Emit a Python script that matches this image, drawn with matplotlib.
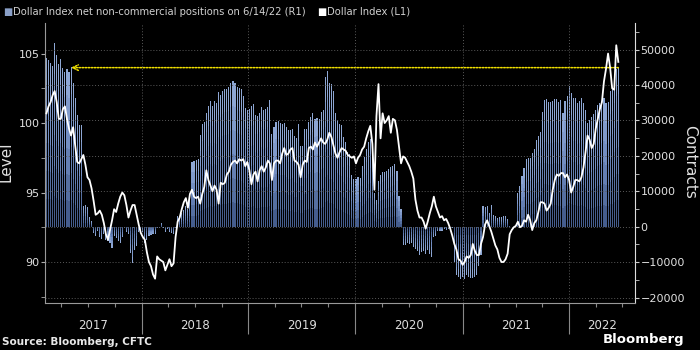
import numpy as np
import pandas as pd
import matplotlib
matplotlib.use('Agg')
import matplotlib.pyplot as plt
import matplotlib.dates as mdates
from matplotlib.ticker import MultipleLocator, NullFormatter
from matplotlib.colors import LinearSegmentedColormap

# weekly net non-commercial positions (contracts)
pos = np.array([
    47500, 47000, 46300, 45500, 51800, 48500, 45800, 47200, 44800, 43800,
    44600, 43700, 45100, 40600, 36300, 31500, 28800, 28700, 5800, 6000,
    5500, 2600, 1500, -1700, -2500, -1200, -3000, -3500, -2200, -3700,
    -4000, -4500, -6000, -2500, -3200, -4000, -4500, -3000, -500, -1500,
    -2200, -7400, -10300, -6500, -5500, -1500, -1300, -1500, -4500, -3700,
    -2700, -2400, -2000, -2000, -500, -300, 1100, -300, -1500, -700,
    -1500, -1800, -2000, -500, 2900, 2700, 4000, 4800, 5800, 5000,
    8700, 18400, 18600, 18900, 19000, 25800, 28900, 29500, 32000, 34000,
    35500, 34000, 35500, 35000, 38000, 37200, 38200, 38800, 38800, 39300,
    40600, 41000, 40500, 39500, 39200, 38800, 37000, 33400, 33000, 33200,
    34200, 34600, 31500, 31300, 32000, 33800, 33000, 33200, 33900, 35800,
    26300, 28200, 29600, 29700, 29400, 29000, 29300, 28200, 27200, 27200,
    27600, 25500, 24900, 29100, 22900, 22800, 27700, 27700, 29600, 31100,
    32000, 30500, 30800, 30400, 32300, 33000, 42300, 43900, 40600, 40200,
    38200, 32000, 30100, 29100, 28600, 25300, 23900, 21000, 20500, 14500,
    13500, 13500, 14000, 13800, 17200, 19600, 22000, 24000, 24700, 23000,
    9600, 7500, 12900, 14500, 15300, 15500, 15800, 16400, 16800, 17200,
    17700, 15600, 8700, 4900, -5100, -5100, -4500, -4800, -4600, -5800,
    -6300, -7000, -8000, -7200, -7000, -7700, -6500, -7600, -8600, -3000,
    -2600, -1300, -1300, -1100, -700, -1000, -700, -800, -300, -10000,
    -13700, -14300, -14700, -14300, -14700, -13700, -14300, -14600, -14400, -14300,
    -13500, -11000, -8000, 5800, 5500, 5800, 3900, 6000, 3300, 3000,
    2500, 2600, 2600, 2900, 3000, 2300, 300, -200, -300, 200,
    9600, 11500, 14400, 16500, 19100, 19300, 19500, 20700, 22000, 24400,
    25500, 26800, 32500, 35800, 36000, 35200, 35300, 35500, 36000, 36000,
    35300, 35800, 32000, 35500, 37000, 39600, 37800, 36300, 36300, 35000,
    35500, 36300, 35000, 33000, 29300, 30100, 31000, 31800, 32800, 34400,
    35000, 35500, 36300, 35000, 35300, 38200, 39200, 42000, 44400, 44900,
])

# Dollar Index level, weekly
dxy = np.array([
    100.7, 101.2, 101.5, 102.0, 102.3, 101.5, 100.3, 100.3, 101.0, 101.2,
    100.3, 99.6, 99.1, 99.7, 98.4, 97.2, 97.1, 97.4, 97.7, 97.0,
    96.1, 95.9, 95.3, 94.4, 93.4, 93.5, 93.7, 93.4, 92.8, 92.0,
    91.6, 92.3, 93.0, 93.8, 93.6, 94.2, 94.7, 95.0, 94.8, 94.1,
    93.2, 93.7, 94.1, 94.1, 93.4, 92.7, 92.1, 91.8, 91.6, 90.7,
    90.0, 89.7, 89.1, 88.8, 90.4, 90.2, 90.1, 90.0, 89.4, 89.8,
    90.2, 89.7, 89.9, 91.8, 92.9, 93.2, 93.8, 94.3, 94.6, 93.9,
    94.9, 95.2, 94.7, 94.6, 94.7, 94.2, 94.9, 95.4, 96.6, 95.9,
    95.5, 95.1, 95.5, 95.2, 94.2, 95.7, 95.6, 95.7, 96.3, 96.5,
    97.0, 97.2, 97.3, 97.1, 97.4, 97.3, 97.4, 96.9, 97.2, 96.6,
    95.6, 96.3, 96.5, 95.8, 96.6, 96.9, 96.5, 96.8, 97.3, 97.1,
    95.9, 97.1, 97.3, 97.3, 97.1, 97.8, 98.2, 97.7, 97.8, 98.1,
    98.2, 97.3, 97.2, 97.0, 96.1, 97.0, 97.3, 97.2, 98.2, 98.3,
    98.1, 98.6, 98.3, 98.6, 98.9, 98.6, 98.5, 98.8, 99.3, 99.0,
    98.4, 97.8, 97.5, 97.9, 98.2, 98.1, 98.0, 97.7, 97.6, 97.5,
    97.6, 97.1, 97.5, 97.7, 98.1, 98.3, 98.9, 99.4, 99.8, 98.5,
    95.2, 100.5, 102.8, 98.9, 100.7, 100.0, 100.2, 100.5, 99.3, 100.3,
    100.2, 99.5, 98.3, 97.1, 97.6, 97.5, 97.2, 96.9, 96.5, 96.0,
    94.5, 93.7, 93.2, 93.2, 92.9, 92.4, 92.9, 93.5, 94.0, 94.7,
    94.0, 93.6, 93.2, 93.3, 93.0, 93.1, 92.8, 92.4, 91.9, 91.3,
    90.9, 90.2, 90.1, 89.8, 90.0, 90.4, 90.3, 90.5, 91.3, 90.8,
    90.5, 90.5, 91.3, 91.8, 92.7, 93.0, 92.6, 92.2, 91.7, 91.2,
    90.9, 90.3, 90.0, 90.0, 90.2, 90.6, 92.0, 92.3, 92.5, 92.6,
    92.9, 92.5, 92.6, 93.0, 92.9, 93.4, 93.0, 92.3, 92.8, 93.0,
    93.6, 94.3, 94.3, 94.2, 93.7, 93.9, 94.2, 95.2, 95.9, 96.3,
    96.2, 96.4, 96.4, 96.1, 96.3, 95.9, 95.0, 95.4, 95.9, 95.9,
    95.8, 96.1, 96.8, 97.9, 99.1, 98.8, 98.2, 98.5, 99.6, 100.3,
    101.0, 101.5, 103.0, 103.9, 105.0, 104.0, 102.5, 102.4, 105.6, 104.4,
])

years = [2017, 2018, 2019, 2020, 2021, 2022]
last_day = '2022-06-17'

dates = pd.date_range(end=last_day, periods=len(pos), freq='7D')
line_dates = pd.date_range(end=last_day, periods=len(dxy), freq='7D')
x_left = pd.Timestamp('2017-02-05')
x_right = pd.Timestamp('2022-08-13')

fig = plt.figure(figsize=(7, 3.5), dpi=100, facecolor='black')
ax = fig.add_axes([45/700, 47/350, 590/700, 280/350])
ax2 = ax.twinx()
ax.set_zorder(ax2.get_zorder() + 1)
ax.patch.set_visible(False)

# bars as stacked segments: darker near zero, lighter toward the tip
cmap = LinearSegmentedColormap.from_list('bars', ['#3d5584', '#6c88bc', '#94acd8'])
nseg = 6
for k in range(nseg):
    lo, hi = k / nseg, (k + 1) / nseg
    ax2.bar(dates, pos * (hi - lo), bottom=pos * lo, width=3.8,
            color=cmap((lo + hi) / 2), linewidth=0, zorder=1)

ax.plot(line_dates, dxy, color='white', lw=1.3, zorder=3)

# dotted yellow arrow back to the last time positions were this high
last = pos[-1]
idx = np.where(pos[:52] >= last)[0][-1]
ax2.annotate('', xy=(dates[idx], last), xytext=(dates[-1], last),
             arrowprops=dict(arrowstyle='->', color='#f0e000', lw=1.1,
                             linestyle=(0, (1, 1)), shrinkA=0, shrinkB=0),
             zorder=4)

ax.set_xlim(x_left, x_right)
ax.set_ylim(87.05, 107.2)
ax2.set_ylim(-21540, 57500)

ax.yaxis.set_major_locator(MultipleLocator(5))
ax.yaxis.set_minor_locator(MultipleLocator(2.5))
ax2.yaxis.set_major_locator(MultipleLocator(10000))
ax2.yaxis.set_minor_locator(MultipleLocator(5000))
ax.tick_params(axis='y', which='both', length=3, color='#aaaaaa',
               labelcolor='#e0e0e0', labelsize=8, pad=1)
ax2.tick_params(axis='y', which='both', length=3, color='#cccccc',
                labelcolor='#e0e0e0', labelsize=8, pad=1)

ax.xaxis.set_major_locator(mdates.YearLocator())
ax.xaxis.set_minor_locator(mdates.MonthLocator(bymonth=[1, 4, 7, 10]))
ax.xaxis.set_major_formatter(NullFormatter())
ax.tick_params(axis='x', which='major', length=22, width=0.8, color='#888888')
ax.tick_params(axis='x', which='minor', length=3, width=0.8, color='#888888')

ax2.set_axisbelow(False)
ax2.grid(axis='y', which='major', color='#5a5a5a', linestyle=(0, (1, 2)), lw=0.7)
ax.grid(axis='x', which='major', color='#5a5a5a', linestyle=(0, (1, 2)), lw=0.7)

for s in ['top', 'right']:
    ax.spines[s].set_visible(False)
for s in ['top', 'left', 'bottom']:
    ax2.spines[s].set_visible(False)
ax.spines['left'].set_color('#999999')
ax.spines['bottom'].set_color('#999999')
ax2.spines['right'].set_color('#dddddd')

for y in years:
    a = max(pd.Timestamp(y, 1, 1), x_left)
    b = min(pd.Timestamp(y + 1, 1, 1), x_right)
    ax.text(a + (b - a) / 2, -0.082, str(y), transform=ax.get_xaxis_transform(),
            ha='center', va='center', color='#dddddd', fontsize=8.5)

fig.text(3/700, 0.966, '■', color='#8aa0c8', fontsize=7, va='center')
fig.text(13/700, 0.966, 'Dollar Index net non-commercial positions on 6/14/22 (R1)',
         color='#d0d0d0', fontsize=7.2, va='center')
fig.text(317/700, 0.966, '■', color='white', fontsize=7, va='center')
fig.text(327/700, 0.966, 'Dollar Index (L1)', color='#d0d0d0', fontsize=7.2, va='center')

fig.text(6/700, 1 - 162/350, 'Level', rotation=90, ha='center', va='center',
         color='#e0e0e0', fontsize=11)
fig.text(690/700, 1 - 162/350, 'Contracts', rotation=270, ha='center', va='center',
         color='#e0e0e0', fontsize=11)

fig.text(2/700, 1 - 342/350, 'Source: Bloomberg, CFTC', fontweight='bold',
         fontsize=7.5, color='#e8e8e8', va='center')
fig.text(684/700, 1 - 340/350, 'Bloomberg', ha='right', va='center',
         fontsize=9.5, fontweight='bold', color='white')

fig.savefig('out.png', dpi=100, facecolor='black')
